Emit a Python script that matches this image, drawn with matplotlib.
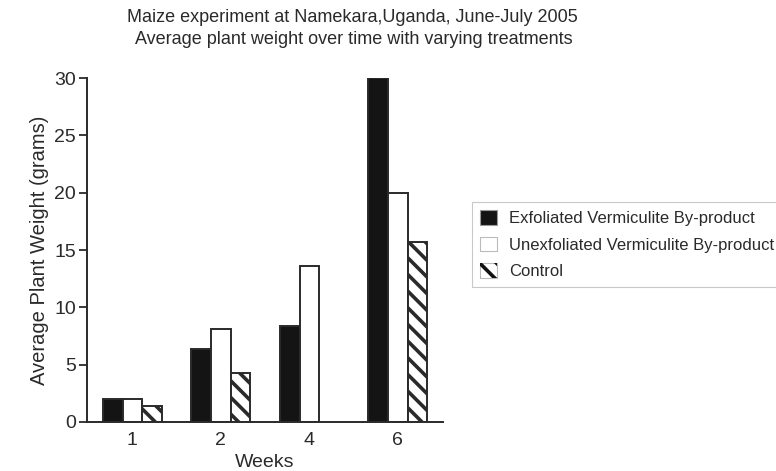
import numpy as np
import matplotlib
matplotlib.use("Agg")
import matplotlib.pyplot as plt
from matplotlib.patches import Patch

plt.rcParams['font.family'] = ['Liberation Sans', 'DejaVu Sans']
plt.rcParams['hatch.linewidth'] = 2.6

# --- Datos ---
weeks = ["1", "2", "4", "6"]
exfoliated = [2.0, 6.4, 8.4, 30.0]
unexfoliated = [2.0, 8.1, 13.6, 20.0]
control = [1.4, 4.3, 0.0, 15.7]
series_names = ["Exfoliated Vermiculite By-product",
                "Unexfoliated Vermiculite By-product",
                "Control"]

fig = plt.figure(figsize=(7.76, 4.71), dpi=100)
ax = fig.add_axes([87 / 776, 1 - 422 / 471, (443 - 87) / 776, (422 - 78) / 471])

x = np.arange(len(weeks))
w = 0.222
ec = "#2a2a2a"
b1 = ax.bar(x - w, exfoliated, w, color="#141414", edgecolor=ec, linewidth=1.4)
b2 = ax.bar(x, unexfoliated, w, color="white", edgecolor=ec, linewidth=1.4)
b3 = ax.bar(x + w, control, w, color="white", edgecolor=ec, linewidth=1.4, hatch="\\\\")
# la barra de control en la semana 4 es cero: no se dibuja
b3[2].set_visible(False)

ax.set_xlim(-0.513, 3.51)
ax.set_ylim(0, 30)
ax.set_xticks(x)
ax.set_xticklabels(weeks)
ax.set_yticks([0, 5, 10, 15, 20, 25, 30])
ax.tick_params(axis="y", labelsize=14, colors="#2a2a2a", length=6, width=1.3, pad=2)
ax.tick_params(axis="x", labelsize=14, colors="#2a2a2a", length=0, pad=7)
for s in ["top", "right"]:
    ax.spines[s].set_visible(False)
for s in ["left", "bottom"]:
    ax.spines[s].set_color("#2a2a2a")
    ax.spines[s].set_linewidth(1.4)

ax.set_xlabel("Weeks", fontsize=14, color="#2a2a2a", labelpad=4)
ax.set_ylabel("Average Plant Weight (grams)", fontsize=14.5, color="#2a2a2a", labelpad=4)

fig.text(352 / 776, 1 - 17 / 471, "Maize experiment at Namekara,Uganda, June-July 2005",
         ha="center", va="center", fontsize=13, color="#2a2a2a")
fig.text(354 / 776, 1 - 39 / 471, "Average plant weight over time with varying treatments",
         ha="center", va="center", fontsize=13, color="#2a2a2a")

# manejadores de la leyenda: borde gris claro, trama negra para el control
h_ctrl = (Patch(facecolor="white", edgecolor="#bbbbbb", linewidth=0.8),
          Patch(facecolor="none", edgecolor="#111111", linewidth=0, hatch="\\\\"))
handles = [Patch(facecolor="#141414", edgecolor="#999999", linewidth=0.8),
           Patch(facecolor="white", edgecolor="#bbbbbb", linewidth=0.8),
           h_ctrl]
leg = fig.legend(handles, series_names, loc="upper left",
                 bbox_to_anchor=(472 / 776, 1 - 202 / 471), fontsize=12,
                 frameon=True, fancybox=False, handlelength=1.0, handleheight=1.0,
                 borderpad=0.5, labelspacing=0.6, handletextpad=0.7, borderaxespad=0)
leg.get_frame().set_edgecolor("#bbbbbb")
leg.get_frame().set_linewidth(0.8)
for t in leg.get_texts():
    t.set_color("#2a2a2a")

fig.savefig("out.png", dpi=100)
